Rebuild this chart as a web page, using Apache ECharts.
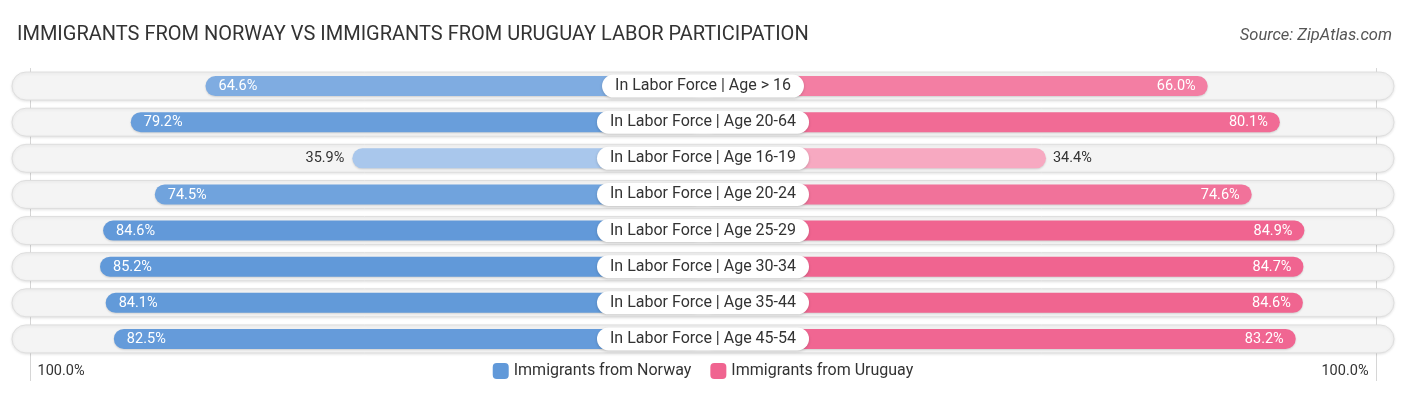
<!DOCTYPE html>
<html>
<head>
<meta charset="utf-8">
<script src="https://cdn.jsdelivr.net/npm/echarts@6/dist/echarts.min.js"></script>
<style>
html,body{margin:0;padding:0;background:#fff;}
#c{width:1406px;height:395px;}
</style>
</head>
<body>
<div id="c"></div>
<script>
const categories = [
  'In Labor Force | Age > 16',
  'In Labor Force | Age 20-64',
  'In Labor Force | Age 16-19',
  'In Labor Force | Age 20-24',
  'In Labor Force | Age 25-29',
  'In Labor Force | Age 30-34',
  'In Labor Force | Age 35-44',
  'In Labor Force | Age 45-54'
];
const norway = [64.6, 79.2, 35.9, 74.5, 84.6, 85.2, 84.1, 82.5];
const uruguay = [66.0, 80.1, 34.4, 74.6, 84.9, 84.7, 84.6, 83.2];
const tickLabels = ['100.0%', '100.0%'];
const tickValues = [100, 100];

const OFF = 32.6;
const XMAX = 135;
const LINE_SHIFT = -1.1;

function hex(c){return [parseInt(c.slice(1,3),16),parseInt(c.slice(3,5),16),parseInt(c.slice(5,7),16)];}
function lerp(a,b,v){
  let t=(v-35)/50; t=Math.max(0,Math.min(1,t));
  const A=hex(a),B=hex(b);
  return 'rgb('+A.map((x,i)=>Math.round(x+(B[i]-x)*t)).join(',')+')';
}
const BLUE_L='#aac8ec', BLUE_D='#6199d9', PINK_L='#f7a9c1', PINK_D='#f06490';

const chart = echarts.init(document.getElementById('c'), null, {renderer:'canvas'});

function trackItem(params, api){
  const y = api.coord([0, api.value(0)])[1];
  const x0 = api.coord([-XMAX, 0])[0], x1 = api.coord([XMAX, 0])[0];
  const h = 28;
  return {type:'rect', shape:{x:x0, y:y-h/2, width:x1-x0, height:h, r:14},
    style:{fill:'#f4f4f4', stroke:'#dedede', lineWidth:1, shadowBlur:3, shadowColor:'rgba(0,0,0,0.10)', shadowOffsetY:1}};
}
function barItem(side){
  return function(params, api){
    const v = api.value(0);
    const y = api.coord([0, api.value(1)])[1];
    const xc = api.coord([0, 0])[0];
    const xe = api.coord([side*(OFF+v), 0])[0];
    const h = 20;
    const x = Math.min(xc, xe), w = Math.abs(xe-xc);
    const col = side<0 ? lerp(BLUE_L, BLUE_D, v) : lerp(PINK_L, PINK_D, v);
    const inside = v >= 50;
    const txt = v.toFixed(1)+'%';
    let tx, align;
    if (side<0){ tx = inside ? xe+13 : xe-8; align = inside ? 'left':'right'; }
    else { tx = inside ? xe-12 : xe+7; align = inside ? 'right':'left'; }
    return {type:'group', children:[
      {type:'rect', shape:{x:x, y:y-h/2, width:w, height:h, r:10},
        style:{fill:col, shadowBlur:2, shadowColor:'rgba(0,0,0,0.15)', shadowOffsetY:1}},
      {type:'text', x:tx, y:y+0.5, style:{text:txt, fill: inside?'#ffffff':'#333333',
        font:'14.5px Roboto', align:align, verticalAlign:'middle'}}
    ]};
  };
}
function labelItem(params, api){
  const i = api.value(0);
  const y = api.coord([0, i])[1];
  const xc = api.coord([0, 0])[0];
  return {type:'text', x:xc, y:y, z2:10, style:{text:categories[i], fill:'#333333', font:'16px Roboto',
    align:'center', verticalAlign:'middle', backgroundColor:'#ffffff', padding:[4,13,3,13], borderRadius:12,
    shadowBlur:3, shadowColor:'rgba(0,0,0,0.18)', shadowOffsetY:1}};
}
function tickItem(params, api){
  const side = params.dataIndex===0 ? -1 : 1;
  const x = Math.round(api.coord([side*(OFF+tickValues[params.dataIndex]+LINE_SHIFT), 0])[0]) + 0.5;
  const top = api.coord([0, 0])[1] - 18;
  return {type:'group', children:[
    {type:'line', shape:{x1:x, y1:top, x2:x, y2:381}, style:{stroke:'#d6d6d6', lineWidth:1}},
    {type:'text', x: side<0 ? x+7 : x-8, y:371, style:{text:tickLabels[params.dataIndex], fill:'#333333',
      font:'14.5px Roboto', align: side<0?'left':'right', verticalAlign:'middle'}}
  ]};
}

chart.setOption({
  animation:false,
  title:[
    {text:'IMMIGRANTS FROM NORWAY VS IMMIGRANTS FROM URUGUAY LABOR PARTICIPATION', left:12, top:20,
      textStyle:{fontFamily:'Roboto', fontSize:20, fontWeight:'normal', color:'#333333'}},
    {text:'Source: ZipAtlas.com', right:9, top:22,
      textStyle:{fontFamily:'Roboto', fontSize:16.5, fontStyle:'italic', fontWeight:'normal', color:'#555555'}}
  ],
  legend:{bottom:11, left:'center', itemWidth:16, itemHeight:16, itemGap:19,
    icon:'roundRect', textStyle:{fontFamily:'Roboto', fontSize:16, color:'#333333'},
    data:['Immigrants from Norway','Immigrants from Uruguay']},
  grid:{left:12, right:12, top:68, height:289},
  xAxis:{type:'value', min:-XMAX, max:XMAX, show:false},
  yAxis:{type:'category', data:categories, inverse:true, show:false},
  series:[
    {type:'custom', name:'track', renderItem:trackItem, data:categories.map((c,i)=>[i]), encode:{y:0}, silent:true},
    {type:'custom', name:'Immigrants from Norway', renderItem:barItem(-1), itemStyle:{color:BLUE_D},
      data:norway.map((v,i)=>[v,i]), encode:{x:0,y:1}},
    {type:'custom', name:'Immigrants from Uruguay', renderItem:barItem(1), itemStyle:{color:PINK_D},
      data:uruguay.map((v,i)=>[v,i]), encode:{x:0,y:1}},
    {type:'custom', name:'labels', renderItem:labelItem, data:categories.map((c,i)=>[i]), encode:{y:0}, z:5},
    {type:'custom', name:'ticks', renderItem:tickItem, data:tickValues.map((v,i)=>[i]), clip:false, z:1, silent:true}
  ]
});
</script>
</body>
</html>
